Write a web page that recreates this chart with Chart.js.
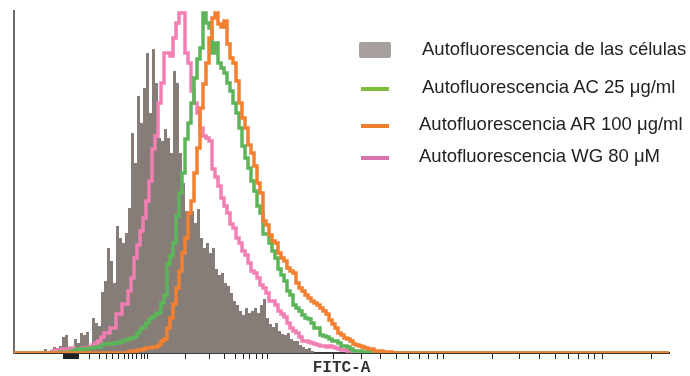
<!DOCTYPE html>
<html>
<head>
<meta charset="utf-8">
<script src="https://cdn.jsdelivr.net/npm/chart.js@4.4.0/dist/chart.umd.min.js"></script>
<style>
  html, body { margin: 0; padding: 0; background: #fff; }
  #wrap { position: relative; width: 690px; height: 376px; }
  #legend { position: absolute; left: 0; top: 0; width: 690px; height: 376px; pointer-events: none; }
  .lg-text { position: absolute; font: 18.5px/20px "Liberation Sans", Arial, sans-serif; color: #222; white-space: nowrap; }
  .lg-swatch { position: absolute; }
</style>
</head>
<body>
<div id="wrap">
  <canvas id="chart" width="690" height="376"></canvas>
  <div id="legend"></div>
</div>
<script>
// histogram bins: first bin starts at channel 27, each bin 3 channels wide, axis runs 0..655
const binStart = 27;
const binWidth = 3;
const axisMax = 655;
const yMax = 342;

const seriesLabels = [
  "Autofluorescencia de las células",
  "Autofluorescencia AC 25 μg/ml",
  "Autofluorescencia AR 100 μg/ml",
  "Autofluorescencia WG 80 μM"
];

// counts per bin
const cells = [
  0, 4, 1, 3, 6, 5, 7, 16, 18, 6, 4, 14, 10, 20, 18, 21, 8, 35, 30, 27,
  61, 72, 105, 92, 70, 127, 115, 110, 120, 145, 220, 190, 257, 230, 265, 300, 240, 304, 270, 215,
  212, 224, 215, 200, 282, 270, 200, 170, 142, 138, 142, 130, 144, 115, 105, 110, 100, 105, 84, 78,
  80, 70, 67, 60, 52, 48, 42, 38, 45, 40, 42, 45, 40, 48, 54, 35, 29, 26, 30, 22,
  19, 18, 20, 14, 12, 12, 8, 6, 4, 5, 2, 0
];

const ac25 = [
  0, 0, 0, 0, 0, 0, 1, 1, 1, 1, 2, 3, 4, 3, 4, 4, 5, 5, 6, 6,
  8, 9, 9, 9, 10, 10, 11, 12, 13, 14, 15, 16, 20, 24, 26, 30, 34, 36, 39, 40,
  50, 58, 89, 97, 110, 137, 160, 180, 214, 230, 250, 275, 294, 305, 340, 330, 325, 300, 310, 290,
  285, 280, 270, 262, 250, 240, 225, 207, 195, 185, 172, 162, 147, 140, 119, 119, 110, 102, 95, 84,
  78, 72, 62, 58, 48, 45, 42, 38, 35, 34, 30, 25, 25, 18, 17, 16, 14, 12, 12, 10,
  7, 7, 6, 4, 2, 2, 2, 1, 1, 2, 1, 0
];

const ar100 = [
  0, 0, 0, 0, 0, 0, 0, 0, 0, 0, 0, 0, 0, 0, 0, 0, 0, 0, 0, 0,
  0, 0, 0, 0, 0, 0, 0, 0, 0, 1, 2, 2, 3, 3, 4, 5, 5, 6, 6, 8,
  12, 14, 25, 35, 49, 65, 82, 100, 115, 140, 152, 180, 205, 245, 269, 290, 315, 335, 340, 329,
  326, 332, 309, 295, 290, 272, 250, 235, 225, 208, 200, 187, 170, 160, 132, 128, 118, 112, 110, 100,
  95, 92, 85, 82, 80, 70, 65, 62, 58, 55, 52, 50, 48, 45, 42, 39, 33, 29, 25, 20,
  18, 15, 14, 12, 9, 8, 7, 6, 5, 4, 4, 2, 2, 2, 1, 1, 1, 0
];

const wg80 = [
  0, 0, 0, 0, 2, 3, 3, 4, 3, 4, 5, 3, 3, 4, 5, 5, 6, 8, 10, 12,
  16, 20, 20, 25, 25, 39, 39, 49, 49, 62, 75, 95, 108, 122, 135, 152, 172, 204, 217, 250,
  270, 300, 300, 297, 315, 330, 340, 340, 300, 290, 262, 250, 240, 225, 217, 215, 212, 184, 176, 167,
  155, 147, 140, 129, 125, 115, 110, 102, 98, 90, 82, 80, 75, 68, 65, 60, 52, 52, 48, 42,
  39, 36, 30, 25, 22, 20, 16, 12, 12, 11, 10, 9, 8, 7, 7, 6, 7, 6, 5, 4,
  3, 3, 2, 2, 1, 1, 0
];

// tick marks on the FITC-A axis (channel units, no labels)
const tickChannels = [
  49, 50, 51, 52, 53, 54, 55, 56, 57, 58, 59, 60, 61, 62, 63, 64,
  75, 85, 92, 98, 104, 110, 114, 118, 122, 127, 130, 133,
  171, 195, 210, 221, 229, 235, 242, 248, 253,
  319, 347, 367, 383, 394, 405, 414, 423, 429,
  478, 505, 525, 541, 554, 564, 574, 580, 588, 637
];

function toPoints(values) {
  const pts = [{ x: 0, y: 0 }];
  values.forEach((v, i) => pts.push({ x: binStart + i * binWidth, y: v }));
  pts.push({ x: axisMax, y: 0 });
  return pts;
}

// legend look + placement (pixels)
const legendSwatch = [
  { type: 'box', color: '#a8a09d', left: 359, top: 42, width: 32, height: 16 },
  { type: 'line', color: '#7dbd3c', left: 361, top: 86.5, width: 28, height: 4 },
  { type: 'line', color: '#f07e30', left: 361, top: 124, width: 28, height: 4 },
  { type: 'line', color: '#d873b0', left: 361, top: 155.5, width: 28, height: 4 }
];
const legendText = [
  { left: 422, top: 39 },
  { left: 422, top: 77 },
  { left: 419, top: 114 },
  { left: 419, top: 145.5 }
];

const htmlLegend = {
  id: 'htmlLegend',
  afterUpdate(chart) {
    const box = document.getElementById('legend');
    box.innerHTML = '';
    chart.data.datasets.forEach((ds, i) => {
      const sw = legendSwatch[i];
      const s = document.createElement('div');
      s.className = 'lg-swatch';
      s.style.left = sw.left + 'px';
      s.style.top = sw.top + 'px';
      s.style.width = sw.width + 'px';
      s.style.height = sw.height + 'px';
      s.style.background = sw.color;
      if (sw.type === 'box') s.style.borderRadius = '2px';
      box.appendChild(s);

      const t = document.createElement('div');
      t.className = 'lg-text';
      t.style.left = legendText[i].left + 'px';
      t.style.top = legendText[i].top + 'px';
      t.textContent = ds.label;
      box.appendChild(t);
    });
  }
};

const lineBase = {
  stepped: true,
  fill: false,
  borderWidth: 3.5,
  pointRadius: 0
};

new Chart(document.getElementById('chart'), {
  type: 'line',
  data: {
    datasets: [
      {
        label: seriesLabels[0],
        data: toPoints(cells),
        stepped: true,
        fill: 'origin',
        backgroundColor: '#867d79',
        borderColor: 'rgba(0,0,0,0)',
        borderWidth: 0,
        pointRadius: 0,
        order: 3
      },
      Object.assign({}, lineBase, { label: seriesLabels[1], data: toPoints(ac25), borderColor: '#5db55a', order: 1 }),
      Object.assign({}, lineBase, { label: seriesLabels[2], data: toPoints(ar100), borderColor: '#f28030', order: 0 }),
      Object.assign({}, lineBase, { label: seriesLabels[3], data: toPoints(wg80), borderColor: '#f27fb4', order: 2 })
    ]
  },
  options: {
    responsive: false,
    animation: false,
    devicePixelRatio: 1,
    layout: { padding: { left: 14, right: 21, top: 11, bottom: 0 } },
    plugins: {
      legend: { display: false },
      tooltip: { enabled: false }
    },
    scales: {
      x: {
        type: 'linear',
        min: 0,
        max: axisMax,
        afterBuildTicks: axis => { axis.ticks = tickChannels.map(v => ({ value: v })); },
        afterFit: axis => { axis.height = 23; },
        ticks: { display: false },
        grid: { display: true, drawOnChartArea: false, drawTicks: true, tickLength: 6, color: '#222', lineWidth: 1 },
        border: { display: true, color: '#3a3a3a', width: 2 },
        title: {
          display: true,
          text: 'FITC-A',
          color: '#333',
          padding: 0,
          font: { family: '"Liberation Mono", "Courier New", monospace', size: 16, weight: 'bold', lineHeight: 1 }
        }
      },
      y: {
        min: 0,
        max: yMax,
        afterFit: axis => { axis.width = 0; },
        ticks: { display: false },
        grid: { display: false },
        border: { display: true, color: '#6a6a6a', width: 2 }
      }
    }
  },
  plugins: [htmlLegend]
});
</script>
</body>
</html>
